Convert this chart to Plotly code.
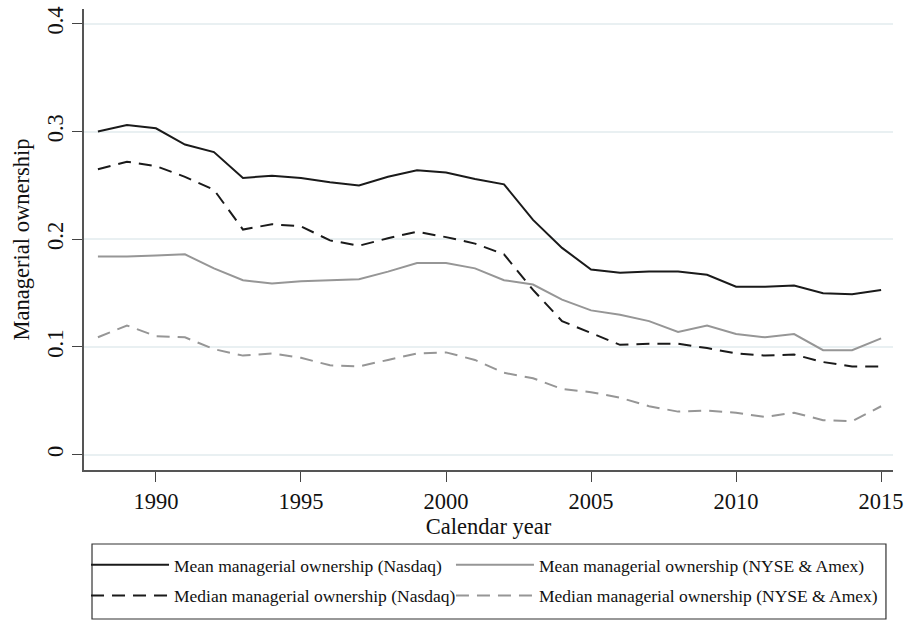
import plotly.graph_objects as go

years = list(range(1988, 2016))

mean_nasdaq = [0.300, 0.306, 0.303, 0.288, 0.281, 0.257, 0.259, 0.257, 0.253, 0.250,
               0.258, 0.264, 0.262, 0.256, 0.251, 0.218, 0.192, 0.172, 0.169, 0.170,
               0.170, 0.167, 0.156, 0.156, 0.157, 0.150, 0.149, 0.153]
mean_nyse = [0.184, 0.184, 0.185, 0.186, 0.173, 0.162, 0.159, 0.161, 0.162, 0.163,
             0.170, 0.178, 0.178, 0.173, 0.162, 0.158, 0.144, 0.134, 0.130, 0.124,
             0.114, 0.120, 0.112, 0.109, 0.112, 0.097, 0.097, 0.108]
median_nasdaq = [0.265, 0.272, 0.268, 0.258, 0.246, 0.209, 0.214, 0.212, 0.199, 0.194,
                 0.201, 0.207, 0.202, 0.196, 0.186, 0.153, 0.124, 0.113, 0.102, 0.103,
                 0.103, 0.099, 0.094, 0.092, 0.093, 0.086, 0.082, 0.082]
median_nyse = [0.109, 0.120, 0.110, 0.109, 0.098, 0.092, 0.094, 0.090, 0.083, 0.082,
               0.088, 0.094, 0.095, 0.088, 0.076, 0.071, 0.061, 0.058, 0.053, 0.045,
               0.040, 0.041, 0.039, 0.035, 0.039, 0.032, 0.031, 0.045]

x_ticks = [1990, 1995, 2000, 2005, 2010, 2015]
y_ticks = [0, 0.1, 0.2, 0.3, 0.4]
y_tick_text = ['0', '0.1', '0.2', '0.3', '0.4']

FONT = 'Liberation Serif'
BLACK = '#1a1a1a'
GRAY = '#969696'
DASH = '13px,8px'

fig = go.Figure()
# left legend column: Nasdaq series, right column: NYSE & Amex series
fig.add_trace(go.Scatter(x=years, y=mean_nasdaq, mode='lines', name='Mean managerial ownership (Nasdaq)',
                         line=dict(color=BLACK, width=2), legend='legend', legendgroup='a'))
fig.add_trace(go.Scatter(x=years, y=mean_nyse, mode='lines', name='Mean managerial ownership (NYSE & Amex)',
                         line=dict(color=GRAY, width=2), legend='legend2', legendgroup='c'))
fig.add_trace(go.Scatter(x=years, y=median_nasdaq, mode='lines', name='Median managerial ownership (Nasdaq)',
                         line=dict(color=BLACK, width=2, dash=DASH), legend='legend', legendgroup='b'))
fig.add_trace(go.Scatter(x=years, y=median_nyse, mode='lines', name='Median managerial ownership (NYSE & Amex)',
                         line=dict(color=GRAY, width=2, dash=DASH), legend='legend2', legendgroup='d'))

leg_common = dict(orientation='v', xanchor='left', y=-0.167, yanchor='top',
                  bgcolor='rgba(0,0,0,0)', borderwidth=0, itemwidth=78, tracegroupgap=5,
                  font=dict(family=FONT, size=17.5, color='#111'))

fig.update_layout(width=906, height=620, margin=dict(l=84, r=13, t=9, b=150, autoexpand=False),
                  paper_bgcolor='white', plot_bgcolor='white',
                  font=dict(family=FONT, size=22, color='#111'),
                  legend=dict(x=0.0025, **leg_common),
                  legend2=dict(x=0.4536, **leg_common),
                  showlegend=True)

# frame around both legend columns
fig.add_shape(type='rect', xref='paper', yref='paper', x0=0.0099, x1=0.9913, y0=-0.3232, y1=-0.1605,
              line=dict(color='#333', width=1.2), fillcolor='rgba(0,0,0,0)')

fig.update_xaxes(range=[1987.52, 2015.41], tickvals=x_ticks, ticks='outside', ticklen=10,
                 tickcolor='#444', showline=True, linecolor='#555', linewidth=1.5,
                 showgrid=False, zeroline=False, tickfont=dict(size=22.5), automargin=False,
                 title=dict(text='Calendar year', font=dict(size=22.5), standoff=4))
fig.update_yaxes(range=[-0.0142, 0.4138], tickvals=y_ticks, ticktext=y_tick_text, tickangle=-90,
                 ticks='outside', ticklen=10, tickcolor='#444', showline=True, linecolor='#555',
                 linewidth=1.5, showgrid=True, gridcolor='#e9f0f2', gridwidth=2, zeroline=False,
                 tickfont=dict(size=22.5), ticklabelstandoff=0, automargin=False,
                 title=dict(text='Managerial ownership', font=dict(size=22.5), standoff=7))

# drop the browser's default page margin so the figure sits at the window corner
fig.write_html('out.html', config={'displayModeBar': False},
               post_script="document.body.style.margin='0';")
